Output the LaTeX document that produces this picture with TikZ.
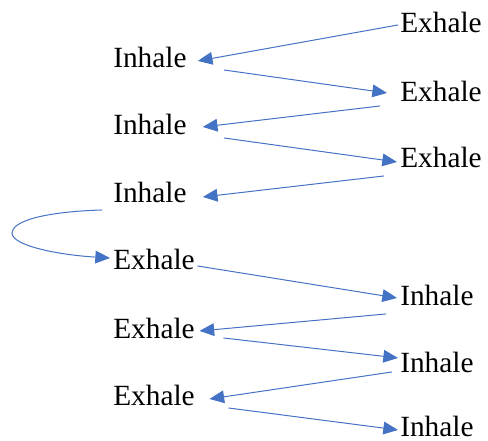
\documentclass[tikz,border=0pt]{standalone}
\usepackage{fontspec}
\setmainfont{Liberation Serif}
\usetikzlibrary{arrows.meta}
\definecolor{officeblue}{HTML}{4472C4}
\tikzset{
	breath/.style={inner sep=0, anchor=base west, font=\fontsize{22}{26}\selectfont},
	flow/.style={draw=officeblue, line width=0.75pt, -{Triangle[length=11pt,width=9.5pt]}, officeblue}
}

\begin{document}
\begin{tikzpicture}[x=0.75pt, y=-0.75pt]
		%%%%% START %%%%%
		\useasboundingbox (0, 0) rectangle (488, 441);
		
		% right column
		\node[breath] (e1) at (400, 33) {Exhale};
		\node[breath] (e2) at (400, 102) {Exhale};
		\node[breath] (e3) at (400, 168) {Exhale};
		\node[breath] (i4) at (400, 305) {Inhale};
		\node[breath] (i5) at (400, 372) {Inhale};
		\node[breath] (i6) at (400, 436) {Inhale};
		
		% left column
		\node[breath] (i1) at (113, 68) {Inhale};
		\node[breath] (i2) at (113, 135) {Inhale};
		\node[breath] (i3) at (113, 203) {Inhale};
		\node[breath] (e4) at (113, 270) {Exhale};
		\node[breath] (e5) at (113, 338) {Exhale};
		\node[breath] (e6) at (113, 405) {Exhale};
		
		% zig-zag
		\draw[flow] ([shift={(-2,2)}]e1.west) -- ([shift={(11,3)}]i1.east);
		\draw[flow] ([shift={(37,12)}]i1.east) -- ([shift={(-13,1)}]e2.west);
		\draw[flow] ([shift={(-20,14)}]e2.west) -- ([shift={(16,2)}]i2.east);
		\draw[flow] ([shift={(37,13)}]i2.east) -- ([shift={(-3,4)}]e3.west);
		\draw[flow] ([shift={(-16,18)}]e3.west) -- ([shift={(16,4)}]i3.east);
		
		\draw[flow] ([shift={(-11,17)}]i3.west) .. controls (40, 212) and (12, 222) .. (12, 233)
			.. controls (12, 246) and (60, 255) .. ([shift={(-3,-2)}]e4.west);
		
		\draw[flow] ([shift={(2.5,6)}]e4.east) -- ([shift={(-3,3)}]i4.west);
		\draw[flow] ([shift={(-14,19)}]i4.west) -- ([shift={(4.5,3)}]e5.east);
		\draw[flow] ([shift={(28.5,10)}]e5.east) -- ([shift={(-2,-4)}]i5.west);
		\draw[flow] ([shift={(-8,10)}]i5.west) -- ([shift={(14.5,4)}]e6.east);
		\draw[flow] ([shift={(33.5,13)}]e6.east) -- ([shift={(-2,4)}]i6.west);
		%%%%% END %%%%%
\end{tikzpicture}
\end{document}
